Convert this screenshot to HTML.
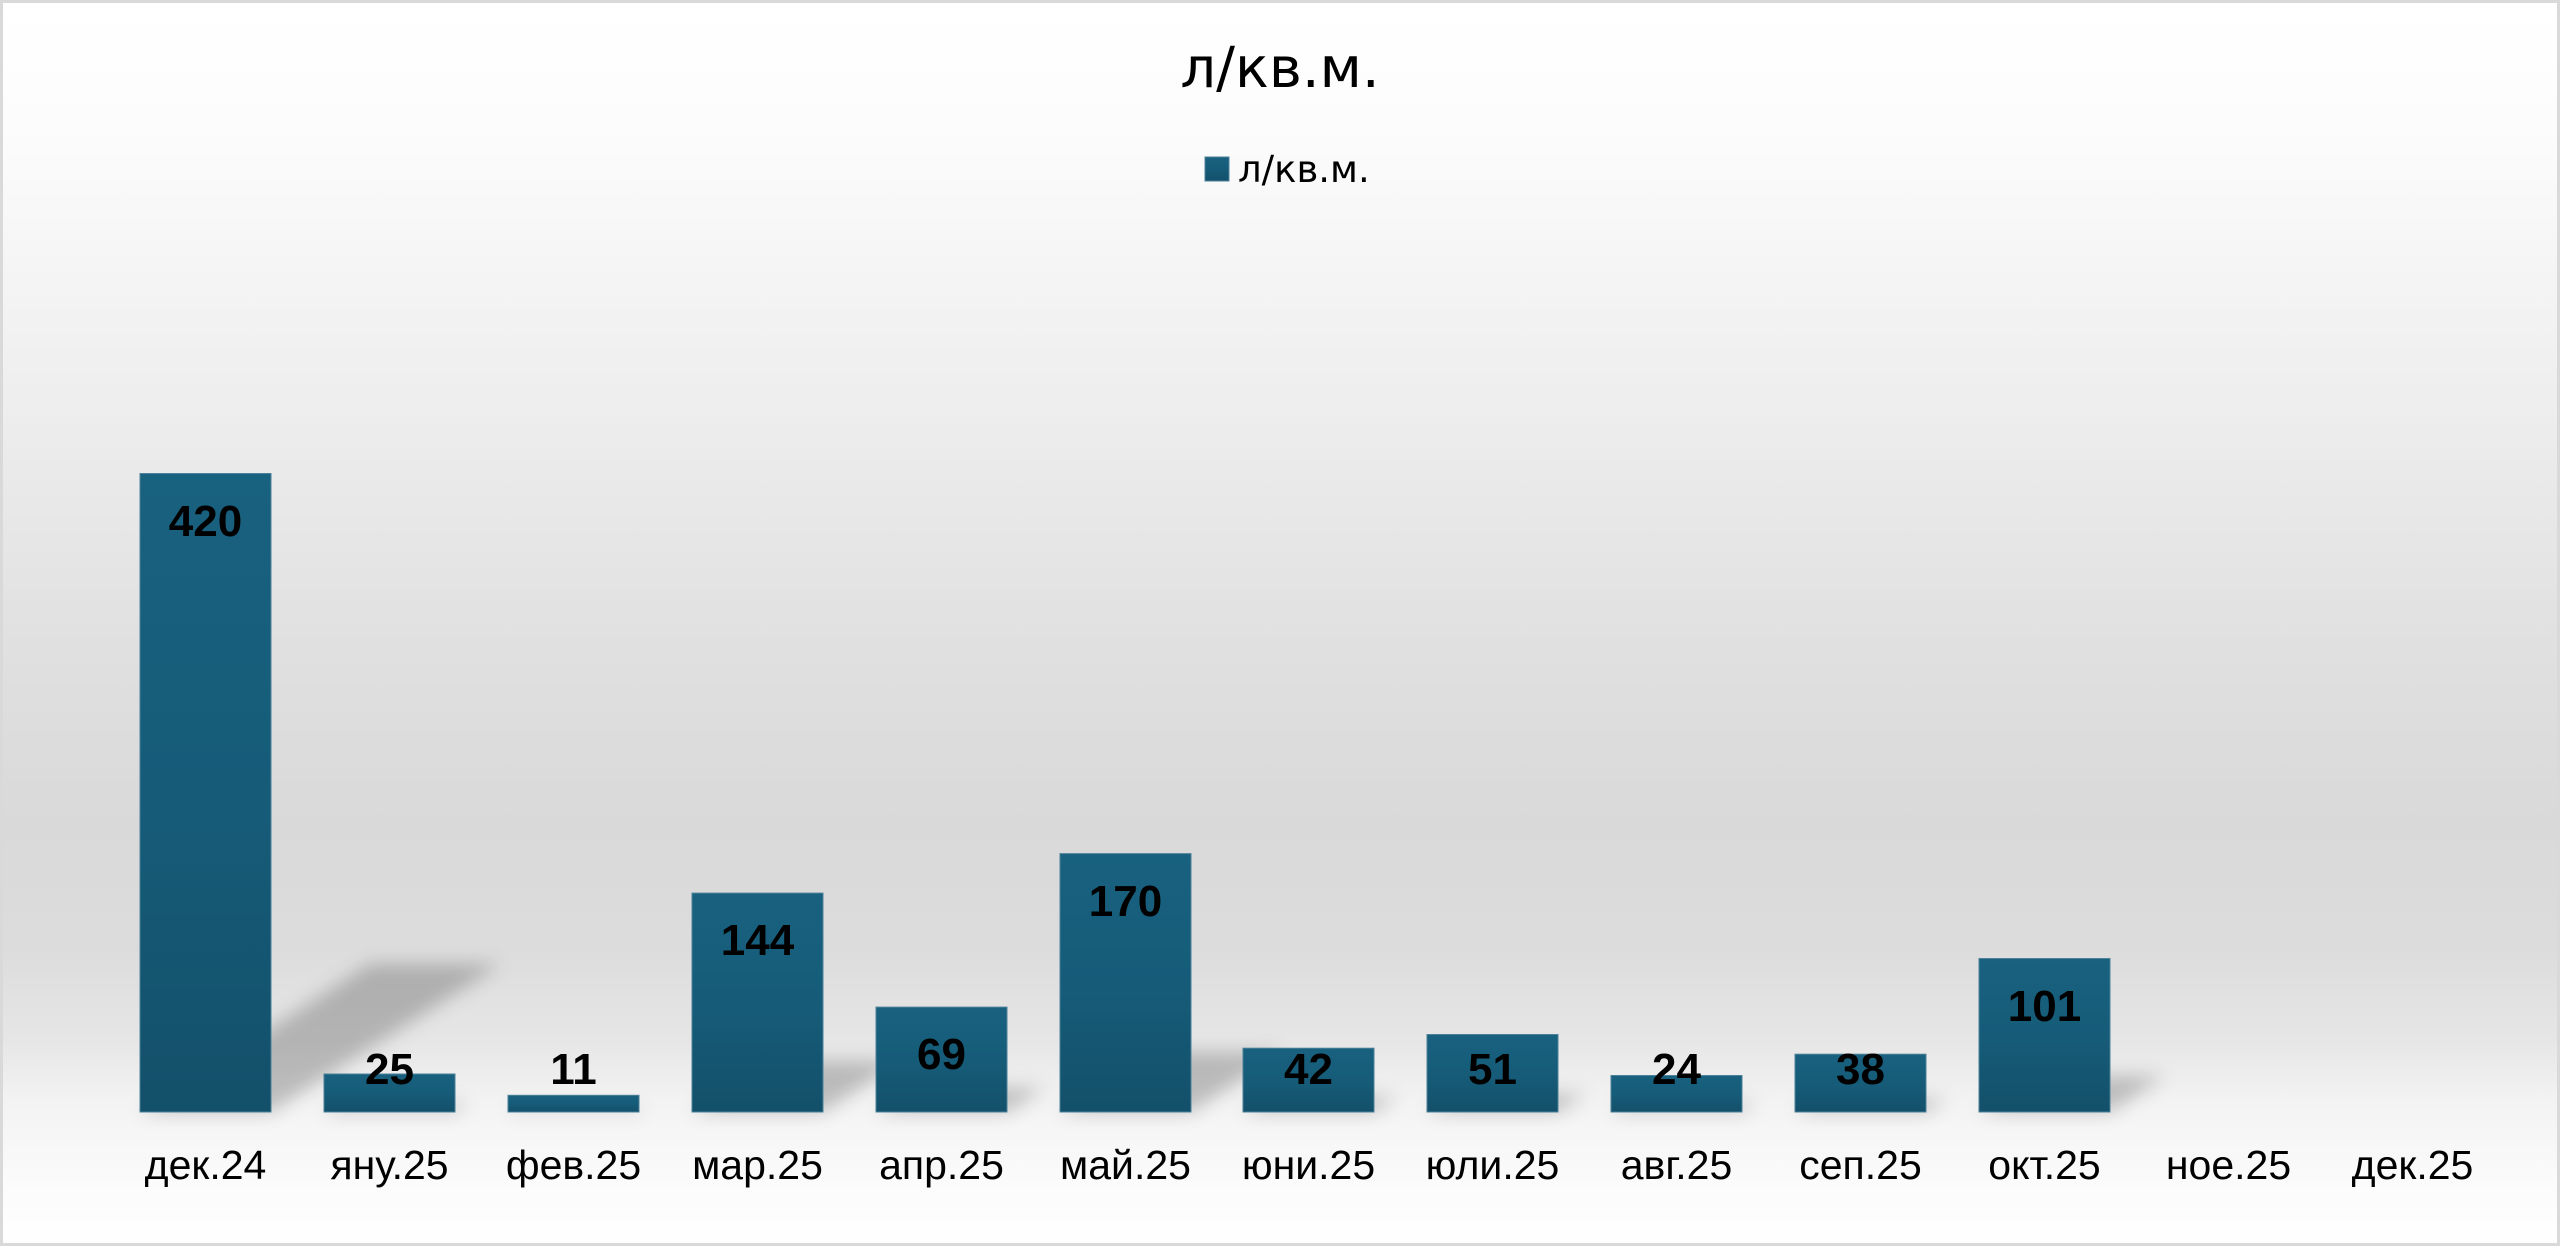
<!DOCTYPE html>
<html>
<head>
<meta charset="utf-8">
<style>
  html, body { margin: 0; padding: 0; background: #ffffff; }
  body { width: 2560px; height: 1246px; overflow: hidden; }
  svg { display: block; }
</style>
</head>
<body>
<svg xmlns="http://www.w3.org/2000/svg" width="2560" height="1246" viewBox="0 0 2560 1246">
  <defs>
    <linearGradient id="bg" x1="0" y1="0" x2="0" y2="1246" gradientUnits="userSpaceOnUse">
      <stop offset="0" stop-color="#ffffff"/>
      <stop offset="0.04" stop-color="#fefefe"/>
      <stop offset="0.12" stop-color="#fbfbfb"/>
      <stop offset="0.35" stop-color="#ececec"/>
      <stop offset="0.52" stop-color="#e0e0e0"/>
      <stop offset="0.66" stop-color="#d9d9d9"/>
      <stop offset="0.76" stop-color="#dcdcdc"/>
      <stop offset="0.835" stop-color="#e6e6e6"/>
      <stop offset="0.885" stop-color="#f3f3f3"/>
      <stop offset="0.95" stop-color="#fbfbfb"/>
      <stop offset="1" stop-color="#ffffff"/>
    </linearGradient>
    <linearGradient id="barg" x1="0" y1="0" x2="0" y2="1">
      <stop offset="0" stop-color="#18617f"/>
      <stop offset="0.5" stop-color="#165c79"/>
      <stop offset="1" stop-color="#13506a"/>
    </linearGradient>
    <filter id="blur" x="-50%" y="-50%" width="200%" height="200%">
      <feGaussianBlur stdDeviation="9"/>
    </filter>
  </defs>

  <!-- background -->
  <rect x="0" y="0" width="2560" height="1246" fill="url(#bg)"/>
  <!-- border -->
  <rect x="1.5" y="1.5" width="2557" height="1243" fill="none" stroke="#d9d9d9" stroke-width="3"/>

  <!-- title -->
  <text x="1280" y="87" text-anchor="middle" font-family="'DejaVu Sans', 'Liberation Sans', sans-serif" font-size="56" fill="#000000">л/кв.м.</text>

  <!-- legend -->
  <rect x="1205" y="157" width="24" height="24" fill="url(#barg)" stroke="#4d8099" stroke-width="1"/>
  <text x="1238" y="182" font-family="'DejaVu Sans', 'Liberation Sans', sans-serif" font-size="37" fill="#000000">л/кв.м.</text>

  <!-- shadows -->
  <g fill="#000000" fill-opacity="0.22" filter="url(#blur)">
    <polygon points="140,1112 271,1112 501,964 370,964"/>
    <polygon points="324,1112 455,1112 468,1103 337,1103"/>
    <polygon points="508,1112 639,1112 645,1108 514,1108"/>
    <polygon points="692,1112 823,1112 901,1061 770,1061"/>
    <polygon points="876,1112 1007,1112 1045,1088 914,1088"/>
    <polygon points="1060,1112 1191,1112 1284,1052 1153,1052"/>
    <polygon points="1243,1112 1374,1112 1397,1097 1266,1097"/>
    <polygon points="1427,1112 1558,1112 1586,1094 1455,1094"/>
    <polygon points="1611,1112 1742,1112 1755,1103 1624,1103"/>
    <polygon points="1795,1112 1926,1112 1947,1099 1816,1099"/>
    <polygon points="1979,1112 2110,1112 2165,1076 2034,1076"/>
  </g>

  <!-- bars -->
  <g fill="url(#barg)" stroke="#4d8099" stroke-width="1">
    <rect x="140" y="473.5" width="131" height="638.5"/>
    <rect x="324" y="1074" width="131" height="38"/>
    <rect x="508" y="1095.3" width="131" height="16.7"/>
    <rect x="692" y="893.1" width="131" height="218.9"/>
    <rect x="876" y="1007.1" width="131" height="104.9"/>
    <rect x="1060" y="853.6" width="131" height="258.4"/>
    <rect x="1243" y="1048.2" width="131" height="63.8"/>
    <rect x="1427" y="1034.5" width="131" height="77.5"/>
    <rect x="1611" y="1075.5" width="131" height="36.5"/>
    <rect x="1795" y="1054.2" width="131" height="57.8"/>
    <rect x="1979" y="958.5" width="131" height="153.5"/>
  </g>

  <!-- data labels -->
  <g font-family="'Liberation Sans', Arial, sans-serif" font-size="44" font-weight="bold" fill="#000000" text-anchor="middle">
    <text x="205.5" y="536">420</text>
    <text x="389.5" y="1084">25</text>
    <text x="573.5" y="1084">11</text>
    <text x="757.5" y="955">144</text>
    <text x="941.5" y="1069">69</text>
    <text x="1125.5" y="916">170</text>
    <text x="1308.5" y="1084">42</text>
    <text x="1492.5" y="1084">51</text>
    <text x="1676.5" y="1084">24</text>
    <text x="1860.5" y="1084">38</text>
    <text x="2044.5" y="1021">101</text>
  </g>

  <!-- category labels -->
  <g font-family="'Liberation Sans', Arial, sans-serif" font-size="41" fill="#000000" text-anchor="middle">
    <text x="205.5" y="1179">дек.24</text>
    <text x="389.5" y="1179">яну.25</text>
    <text x="573.5" y="1179">фев.25</text>
    <text x="757.5" y="1179">мар.25</text>
    <text x="941.5" y="1179">апр.25</text>
    <text x="1125.5" y="1179">май.25</text>
    <text x="1308.5" y="1179">юни.25</text>
    <text x="1492.5" y="1179">юли.25</text>
    <text x="1676.5" y="1179">авг.25</text>
    <text x="1860.5" y="1179">сеп.25</text>
    <text x="2044.5" y="1179">окт.25</text>
    <text x="2228.5" y="1179">ное.25</text>
    <text x="2412.5" y="1179">дек.25</text>
  </g>
</svg>
</body>
</html>
